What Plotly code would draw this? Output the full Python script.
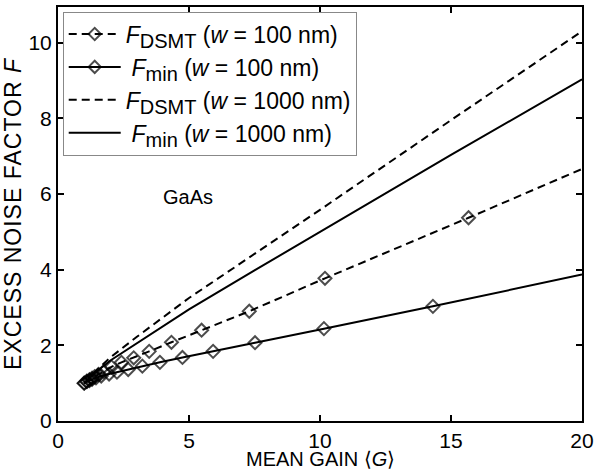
import plotly.graph_objects as go

# Mean gain <G> and excess noise factor F read for each curve
g_dsmt_100 = [1.0, 1.1, 1.2, 1.3, 1.4, 1.55, 1.75, 2.04, 2.42, 2.89, 3.48, 4.33, 5.48, 7.30, 10.19, 15.67, 20.0]
f_dsmt_100 = [1.0, 1.05, 1.09, 1.13, 1.17, 1.23, 1.31, 1.43, 1.55, 1.67, 1.84, 2.08, 2.40, 2.90, 3.77, 5.37, 6.66]

g_min_100 = [1.0, 1.1, 1.2, 1.3, 1.45, 1.65, 1.95, 2.25, 2.68, 3.22, 3.89, 4.75, 5.92, 7.52, 10.15, 14.31, 20.0]
f_min_100 = [1.0, 1.04, 1.07, 1.10, 1.14, 1.19, 1.24, 1.29, 1.36, 1.45, 1.55, 1.68, 1.84, 2.07, 2.44, 3.03, 3.87]

g_1000 = [1.0, 1.5, 2.0, 3.0, 5.0, 7.5, 10.0, 15.0, 20.0]
f_dsmt_1000 = [1.0, 1.36, 1.68, 2.22, 3.25, 4.42, 5.58, 7.95, 10.3]
f_min_1000 = [1.0, 1.32, 1.60, 2.05, 2.95, 3.98, 5.00, 7.03, 9.03]

x_ticks = [0, 5, 10, 15, 20]
y_ticks = [0, 2, 4, 6, 8, 10]

FONT = "Liberation Sans, Arial, sans-serif"
FS = 21
LEG_FS = 23
DASH = "8px,5px"


def marker_sizes(n):
    # the curve runs on to G = 20 without a marker at its end
    return [10] * (n - 1) + [0]


def label(sub, width, indent=""):
    return ("%s<i>F</i><sub><span style='font-size:20px'>%s</span></sub>"
            " (<i>w</i> = %s nm)" % (indent, sub, width))


fig = go.Figure()
fig.add_trace(go.Scatter(
    x=g_dsmt_100, y=f_dsmt_100, mode="lines+markers",
    name=label("DSMT", "100"),
    line=dict(color="black", width=2, dash=DASH),
    marker=dict(symbol="diamond-open", size=marker_sizes(len(g_dsmt_100)),
                color="black", line=dict(width=2, color="black")),
))
fig.add_trace(go.Scatter(
    x=g_min_100, y=f_min_100, mode="lines+markers",
    name=label("min", "100", "\u2005"),
    line=dict(color="black", width=2),
    marker=dict(symbol="diamond-open", size=marker_sizes(len(g_min_100)),
                color="black", line=dict(width=2, color="black")),
))
fig.add_trace(go.Scatter(
    x=g_1000, y=f_dsmt_1000, mode="lines",
    name=label("DSMT", "1000"),
    line=dict(color="black", width=2, dash=DASH),
))
fig.add_trace(go.Scatter(
    x=g_1000, y=f_min_1000, mode="lines",
    name=label("min", "1000", "\u2005"),
    line=dict(color="black", width=2),
))

fig.add_annotation(x=4.95, y=5.93, xref="x", yref="y", text="GaAs",
                   showarrow=False, font=dict(size=20, color="black", family=FONT))

# x-axis title, set just below the tick labels
fig.add_annotation(x=0.5, y=0, xref="paper", yref="paper", yanchor="middle",
                   yshift=-38, text="MEAN GAIN \u27e8<i>G</i>\u27e9", showarrow=False,
                   font=dict(size=20, color="black", family=FONT))

axis_common = dict(
    showgrid=False, zeroline=False, showline=True, linecolor="black", linewidth=2,
    ticks="inside", ticklen=6, tickwidth=1.5, tickcolor="black", mirror="ticks",
    tickfont=dict(size=FS, color="black", family=FONT), automargin=False,
)

fig.update_layout(
    width=595, height=472,
    margin=dict(l=58, r=13, t=7, b=51),
    paper_bgcolor="white", plot_bgcolor="white",
    font=dict(family=FONT, color="black", size=FS),
    showlegend=True,
    legend=dict(
        x=0.009, y=0.989, xanchor="left", yanchor="top",
        bgcolor="white", bordercolor="#888888", borderwidth=1,
        font=dict(size=LEG_FS, family=FONT, color="black"),
        tracegroupgap=0, itemwidth=52,
    ),
    xaxis=dict(range=[0, 20], tickvals=x_ticks, **axis_common),
    yaxis=dict(range=[0, 10.94], tickvals=y_ticks,
               title=dict(text="<span style='letter-spacing:1px'>EXCESS NOISE FACTOR <i>F</i></span>",
                          standoff=6, font=dict(size=23, family=FONT)),
               **axis_common),
)

fig.write_html("out.html")
